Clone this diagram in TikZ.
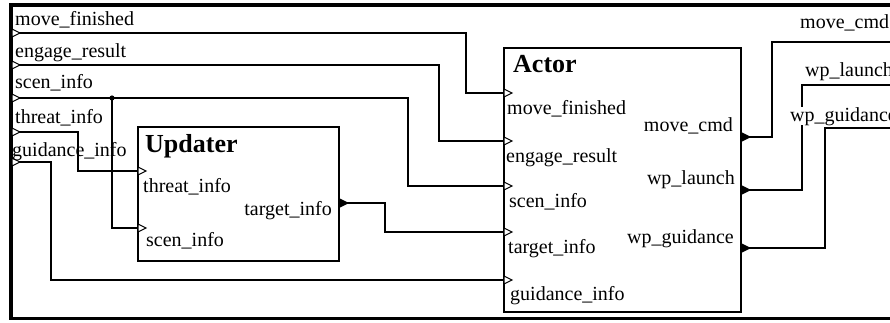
\documentclass[tikz,border=0pt]{standalone}
\usepackage{fontspec}
\setmainfont{Liberation Serif}
\begin{document}
\begin{tikzpicture}[x=1pt,y=-1pt,
  wire/.style={line width=1.3pt},
  blockbox/.style={draw,line width=2pt,inner sep=0pt,outer sep=0pt},
  lbl/.style={inner sep=0pt,font=\fontsize{20}{24}\selectfont},
  ttl/.style={inner sep=0pt,font=\fontsize{26}{30}\selectfont\bfseries},
  inport/.pic={\draw[line width=1pt,fill=white] (0,-4) -- (8,0) -- (0,4) -- cycle;},
  outport/.pic={\fill (0,-5) -- (10,0) -- (0,5) -- cycle;}]
\useasboundingbox (0,0) rectangle (890,322);
\clip (0,0) rectangle (890,322);

% outer frame
\draw[line width=3.5pt] (900,5) -- (11,5) -- (11,318.5) -- (900,318.5);

% blocks
\node[blockbox,minimum width=201pt,minimum height=134pt] (upd) at (238.5,194) {};
\node[blockbox,minimum width=237pt,minimum height=264pt] (act) at (622.5,180) {};

% ports
\coordinate (fin1) at (12,33);
\coordinate (fin2) at (12,65);
\coordinate (fin3) at (12,98);
\coordinate (fin4) at (12,132);
\coordinate (fin5) at (12,162);
\coordinate (junc) at (112,98);
\coordinate (uthr) at (138,171);
\coordinate (uscn) at (138,228);
\coordinate (utgt) at (339,203);
\coordinate (amf) at (504,93);
\coordinate (aer) at (504,141);
\coordinate (ascn) at (504,186);
\coordinate (atgt) at (504,232);
\coordinate (agd) at (504,280);
\coordinate (amc) at (741,137);
\coordinate (awl) at (741,190);
\coordinate (awg) at (741,248);
\coordinate (fout1) at (900,42);
\coordinate (fout2) at (900,85);
\coordinate (fout3) at (900,128);

% wires
\draw[wire] (fin1) -- (466,33) |- (amf);
\draw[wire] (fin2) -- (439,65) |- (aer);
\draw[wire] (fin3) -- (408,98) |- (ascn);
\draw[wire] (junc) |- (uscn);
\fill (junc) circle (2.6);
\draw[wire] (fin4) -- (78,132) |- (uthr);
\draw[wire] (fin5) -- (51,162) |- (agd);
\draw[wire] (utgt) -- (385,203) |- (atgt);
\draw[wire] (amc) -- (772,137) |- (fout1);
\draw[wire] (awl) -- (802,190) |- (fout2);
\draw[wire] (awg) -- (825,248) |- (fout3);

% port markers
\foreach \p in {fin1,fin2,fin3,fin4,fin5,uthr,uscn,amf,aer,ascn,atgt,agd}
  \pic at (\p) {inport};
\foreach \p in {utgt,amc,awl,awg}
  \pic at (\p) {outport};

% frame labels
\node[lbl,anchor=base west] (lf1) at (15,25) {move\_finished};
\node[lbl,anchor=base west] (lf2) at (15,57) {engage\_result};
\node[lbl,anchor=base west] (lf3) at (15,88) {scen\_info};
\node[lbl,anchor=base west] (lf4) at (15,123) {threat\_info};
\node[lbl,anchor=base west] (lf5) at (12,156) {guidance\_info};
\node[lbl,anchor=base west] (lo1) at (800,28) {move\_cmd};
\node[lbl,anchor=base west] (lo2) at (805,76) {wp\_launch};
\node[lbl,anchor=base west,fill=white] (lo3) at (790,121) {wp\_guidance};

% Updater labels
\node[ttl,anchor=base west] (ut) at (145,152) {Updater};
\node[lbl,anchor=base west] (ul1) at (143,192) {threat\_info};
\node[lbl,anchor=base west] (ul2) at (146,246) {scen\_info};
\node[lbl,anchor=base east] (ul3) at (332,215) {target\_info};

% Actor labels
\node[ttl,anchor=base west] (at) at (513,72) {Actor};
\node[lbl,anchor=base west] (al1) at (507,114) {move\_finished};
\node[lbl,anchor=base west] (al2) at (506,162) {engage\_result};
\node[lbl,anchor=base west] (al3) at (509,207) {scen\_info};
\node[lbl,anchor=base west] (al4) at (508,253) {target\_info};
\node[lbl,anchor=base west] (al5) at (510,300) {guidance\_info};
\node[lbl,anchor=base east] (ao1) at (733,131) {move\_cmd};
\node[lbl,anchor=base east] (ao2) at (735,184) {wp\_launch};
\node[lbl,anchor=base east] (ao3) at (734,243) {wp\_guidance};
\end{tikzpicture}
\end{document}
